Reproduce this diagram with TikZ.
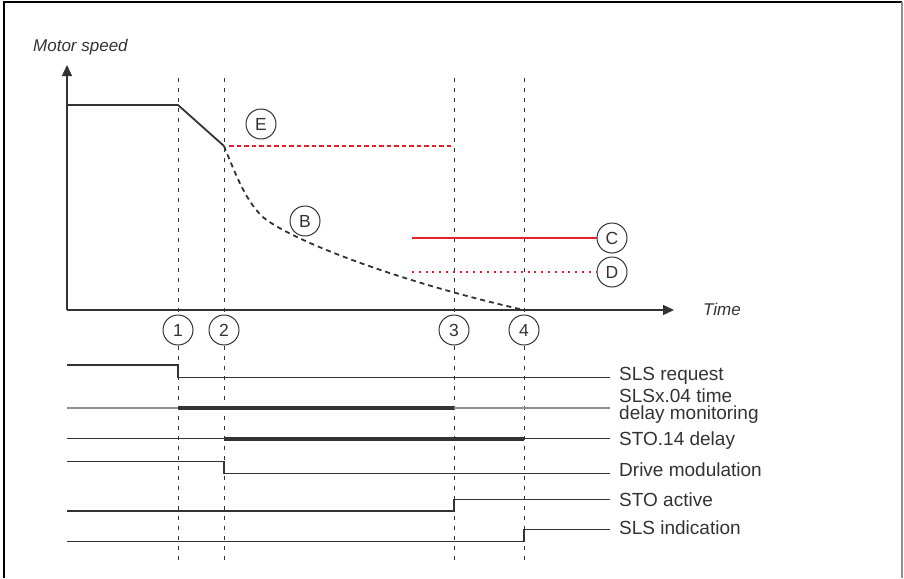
\documentclass[tikz,border=0pt]{standalone}
\usepackage{fontspec}
\setmainfont{Liberation Sans}
\usetikzlibrary{arrows.meta}
\definecolor{dk}{HTML}{333333}
\definecolor{rd}{HTML}{E3202C}
\definecolor{gr}{HTML}{8F8F8F}
\begin{document}
\begin{tikzpicture}[x=1pt,y=-1pt,
  circ/.style={circle,draw=dk,line width=1pt,minimum size=30pt,inner sep=0pt,text=dk,font=\fontsize{17.5}{17.5}\selectfont},
  lab/.style={anchor=base west,inner sep=0pt,text=dk,font=\fontsize{19}{16.8}\selectfont,align=left},
  ax/.style={dk,line width=1.3pt},
  vdash/.style={dk,line width=0.9pt,dash pattern=on 4pt off 6pt},
  sig/.style={dk,line width=1.3pt},
  thick sig/.style={dk,line width=4pt},
  thin gray/.style={gr,line width=1.6pt}]
\useasboundingbox (0,0) rectangle (904,578);
% frame
\draw[black,line width=1.3pt] (4,578) -- (4,2) -- (902,2);
\draw[gr,line width=1.5pt] (902,2) -- (902,578);
% axis labels
\node[anchor=base west,inner sep=0pt,text=dk,font=\fontsize{17}{17}\selectfont\itshape] (ms) at (33,51.5) {Motor speed};
\node[anchor=base west,inner sep=0pt,text=dk,font=\fontsize{17}{17}\selectfont\itshape] (tm) at (703,315) {Time};
% axes
\coordinate (o) at (67,310);
\coordinate (ytip) at (67,65);
\coordinate (xtip) at (674,310);
\draw[ax,-{Triangle[length=11pt,width=10pt]}] (o) -- (ytip);
\draw[ax,-{Triangle[length=11pt,width=10pt]}] (o) -- (xtip);
% time markers
\node[circ] (n1) at (178,330) {1};
\node[circ] (n2) at (224,330) {2};
\node[circ] (n3) at (454,330) {3};
\node[circ] (n4) at (524,330) {4};
\foreach \n/\x in {n1/178,n2/224,n3/454,n4/524}{
  \draw[vdash] (\x,78) -- (\n.north);
  \draw[vdash] (\n.south) -- (\x,560);
}
% speed curve
\draw[dk,line width=1.8pt,line join=round] (67,105) -- (178,105) -- (224,146);
\draw[dk,line width=1.8pt,dash pattern=on 5pt off 4pt]
  (224,146) .. controls (237,178) and (247,203) .. (264,218)
  .. controls (295,242) and (400,282) .. (524,310);
% limits
\draw[rd,line width=2pt,dash pattern=on 4.5pt off 3pt] (229,145.5) -- (454,145.5);
\node[circ] (E) at (261,124) {E};
\node[circ] (B) at (305,221) {B};
\node[circ] (C) at (612,238) {C};
\node[circ] (D) at (612,272) {D};
\draw[rd,line width=2pt] (412,238) -- (C.west);
\draw[rd,line width=2pt,dash pattern=on 2pt off 4.8pt] (412,272) -- (D.west);
% signals
\draw[sig] (67,365) -- (178,365) -- (178,377.5) -- (610,377.5);
\node[lab] (l1) at (619,380) {SLS request};
\draw[thin gray] (67,408) -- (178,408);
\draw[thick sig] (178,408) -- (454,408);
\draw[thin gray] (454,408) -- (610,408);
\node[lab] (l2) at (619,419.5) {SLSx.04 time\\delay monitoring};
\draw[sig] (67,438.5) -- (224,438.5);
\draw[thick sig] (224,438.5) -- (524,438.5);
\draw[sig] (524,438.5) -- (610,438.5);
\node[lab] (l3) at (619,445) {STO.14 delay};
\draw[sig] (67,461.5) -- (224,461.5) -- (224,473.5) -- (610,473.5);
\node[lab] (l4) at (619,476) {Drive modulation};
\draw[sig] (67,511) -- (454,511) -- (454,499.5) -- (610,499.5);
\node[lab] (l5) at (619,506.5) {STO active};
\draw[sig] (67,541.5) -- (524,541.5) -- (524,529.5) -- (610,529.5);
\node[lab] (l6) at (619,534.5) {SLS indication};
\end{tikzpicture}
\end{document}
